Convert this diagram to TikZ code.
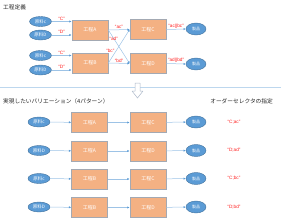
\documentclass[tikz,border=0pt]{standalone}
\usepackage{fontspec}
\setmainfont{Noto Sans CJK JP}
\newfontfamily\latinfont{Liberation Sans}
\usepackage{tikz}
\usetikzlibrary{arrows.meta,calc,positioning,shapes.geometric}
\definecolor{matblue}{HTML}{5B9BD5}
\definecolor{matedge}{HTML}{41719C}
\definecolor{procfill}{HTML}{F4B183}
\definecolor{procedge}{HTML}{A3A9B3}
\definecolor{flowblue}{HTML}{9DC3E6}
\definecolor{lblred}{HTML}{FF2020}
\definecolor{rulecol}{HTML}{BDD7EE}
\definecolor{arrowgray}{HTML}{ADB9CA}

\begin{document}
\begin{tikzpicture}[x=1pt,y=-1pt,
    mat/.style={ellipse,draw=matedge,fill=matblue,text=white,line width=0.4pt,
        minimum width=22pt,minimum height=10pt,inner sep=0pt,
        font=\fontsize{4.5}{5}\selectfont},
    proc/.style={rectangle,draw=procedge,fill=procfill,text=white,line width=0.7pt,
        minimum width=36pt,minimum height=20pt,inner sep=0pt,
        font=\fontsize{5}{6}\selectfont},
    prod/.style={ellipse,draw=matedge,fill=matblue,text=white,line width=0.4pt,
        minimum width=20pt,minimum height=12pt,inner sep=0pt,
        font=\fontsize{4}{5}\selectfont},
    flow/.style={draw=flowblue,line width=0.5pt,
        -{Latex[length=2.2pt,width=2.2pt,color=matblue]}},
    lbl/.style={text=lblred,inner sep=0.8pt,font=\latinfont\fontsize{4.7}{5}\selectfont},
    head/.style={text=black!85,inner sep=0pt,font=\fontsize{5.7}{6}\selectfont}]
\useasboundingbox (0,0) rectangle (281,220);

% Process definition
\node[head,anchor=west] (title) at (3,7) {工程定義};

\node[mat] (c1) at (40.5,21.5) {原料c};
\node[mat] (d1) at (40.5,35) {原料D};
\node[mat] (c2) at (40.5,55.5) {原料c};
\node[mat] (d2) at (40.5,70) {原料D};
\node[proc] (A) at (90,30) {工程A};
\node[proc] (B) at (90,63) {工程B};
\node[proc] (C) at (148,29.5) {工程C};
\node[proc] (D) at (148,63.5) {工程D};
\node[prod] (P1) at (196,29) {製品};
\node[prod] (P2) at (196,64) {製品};

\draw[flow] (c1.east) -- (c1 -| A.west) node[lbl,midway,above] {“C”};
\draw[flow] (d1.east) -- (d1 -| A.west) node[lbl,midway,above] {“D”};
\draw[flow] (c2.east) -- (c2 -| B.west) node[lbl,midway,above] {“C”};
\draw[flow] (d2.east) -- (d2 -| B.west) node[lbl,midway,above] {“D”};

\draw[flow] (A.east) -- (C.west) node[lbl,midway,above] {“ac”};
\draw[flow] (A.east) -- (D.west) node[lbl,pos=0.25] {“ad”};
\draw[flow] (B.east) -- (C.west) node[lbl,pos=0.3,above left=-1pt] {“bc”};
\draw[flow] (B.east) -- (D.west) node[lbl,midway,above] {“bd”};
\draw[flow] (C.east) -- (P1.west) node[lbl,midway,above] {“ac||bc”};
\draw[flow] (D.east) -- (P2.west) node[lbl,midway,above] {“ad||bd”};

% Divider and down arrow
\draw[rulecol,line width=1pt] (0,87) -- (281,87);
\draw[arrowgray,fill=white,line width=0.5pt,line join=round]
    (135,83) -- (140,83) -- (140,91) -- (143,91) -- (137.5,98)
    -- (132,91) -- (135,91) -- cycle;

% Variations
\node[head,anchor=west] (var) at (3,101) {実現したいバリエーション（4パターン）};
\node[head,anchor=east] (sel) at (273,101) {オーダーセレクタの指定};

\node[mat] (r1m) at (39,122) {原料c};
\node[proc] (r1a) at (89.5,122.5) {工程A};
\node[proc] (r1b) at (148,122.5) {工程C};
\node[prod] (r1p) at (196,122) {製品};
\node[lbl] (r1s) at (234,122) {“C;ac”};
\draw[flow] (r1m) -- (r1a);
\draw[flow] (r1a) -- (r1b);
\draw[flow] (r1b) -- (r1p);

\node[mat] (r2m) at (39,150.5) {原料D};
\node[proc] (r2a) at (89.5,151) {工程A};
\node[proc] (r2b) at (148,151) {工程D};
\node[prod] (r2p) at (196,150.5) {製品};
\node[lbl] (r2s) at (234,150.5) {“D;ad”};
\draw[flow] (r2m) -- (r2a);
\draw[flow] (r2a) -- (r2b);
\draw[flow] (r2b) -- (r2p);

\node[mat] (r3m) at (39,178.5) {原料c};
\node[proc] (r3a) at (89.5,179) {工程B};
\node[proc] (r3b) at (148,179) {工程C};
\node[prod] (r3p) at (196,178.5) {製品};
\node[lbl] (r3s) at (234,178.5) {“C;bc”};
\draw[flow] (r3m) -- (r3a);
\draw[flow] (r3a) -- (r3b);
\draw[flow] (r3b) -- (r3p);

\node[mat] (r4m) at (39,207) {原料D};
\node[proc] (r4a) at (89.5,207.5) {工程B};
\node[proc] (r4b) at (148,207.5) {工程D};
\node[prod] (r4p) at (196,207) {製品};
\node[lbl] (r4s) at (234,207) {“D;bd”};
\draw[flow] (r4m) -- (r4a);
\draw[flow] (r4a) -- (r4b);
\draw[flow] (r4b) -- (r4p);
\end{tikzpicture}
\end{document}
